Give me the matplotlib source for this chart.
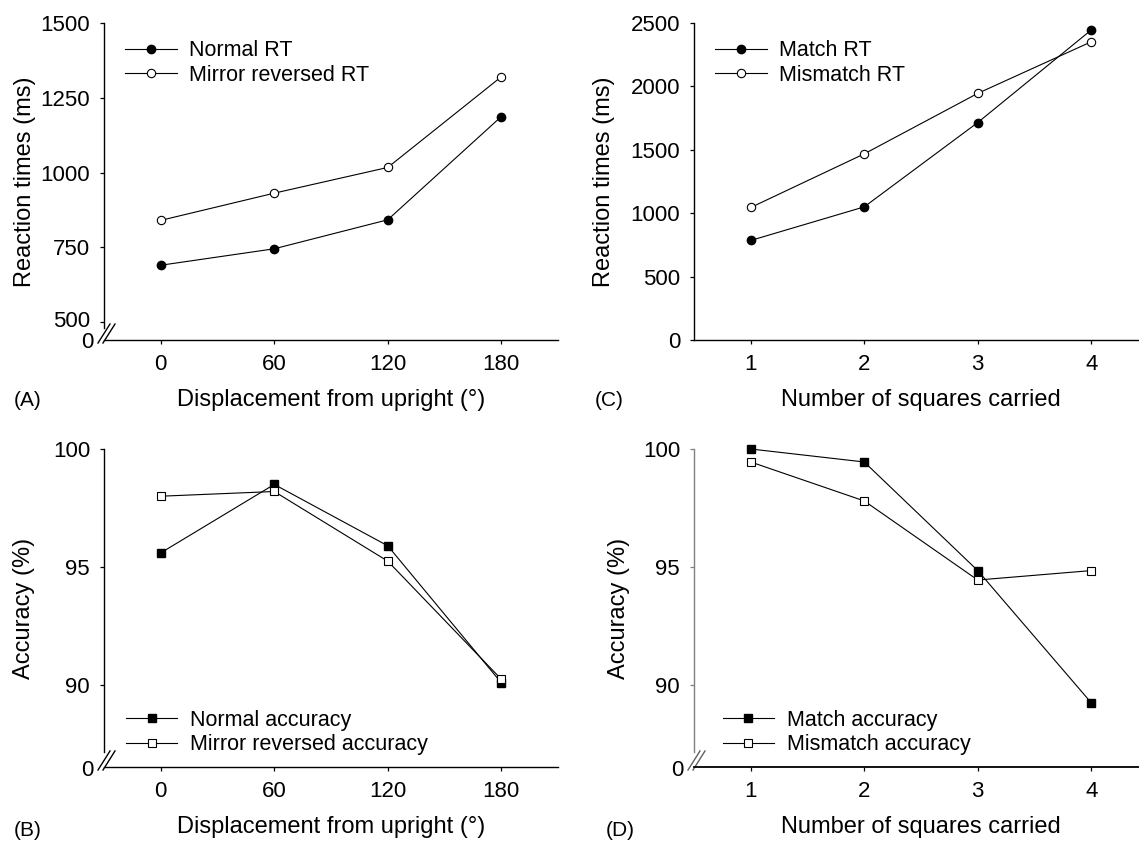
import matplotlib
matplotlib.use("Agg")
import matplotlib.pyplot as plt
import matplotlib.transforms as mtransforms
from matplotlib.lines import Line2D

plt.rcParams['font.family'] = ['Liberation Sans', 'DejaVu Sans']

# data
angles = [0, 60, 120, 180]
squares = [1, 2, 3, 4]

normal_rt = [690, 745, 842, 1187]
mirror_rt = [840, 931, 1017, 1320]

match_rt = [785, 1050, 1715, 2445]
mismatch_rt = [1045, 1468, 1945, 2352]

normal_acc = [95.6, 98.5, 95.9, 90.1]
mirror_acc = [98.0, 98.2, 95.25, 90.25]

match_acc = [100.0, 99.45, 94.85, 89.25]
mismatch_acc = [99.45, 97.8, 94.45, 94.85]

W, H = 1139, 843
fig = plt.figure(figsize=(W / 100, H / 100), dpi=100)

AX_W = 454
AX_H = 317


def px_axes(left, top, bottom):
    return fig.add_axes([left / W, (H - bottom) / H, AX_W / W, (bottom - top) / H])


def style(ax, ylabel, xlabel, ylab_x):
    for s in ['top', 'right']:
        ax.spines[s].set_visible(False)
    for s in ['left', 'bottom']:
        ax.spines[s].set_linewidth(1.0)
    ax.tick_params(axis='both', direction='out', length=3, width=0.9, labelsize=16)
    ax.tick_params(axis='x', pad=7)
    ax.tick_params(axis='y', pad=7)
    ax.set_ylabel(ylabel, fontsize=17)
    ax.set_xlabel(xlabel, fontsize=17)
    ax.yaxis.set_label_coords(ylab_x, 0.5)
    ax.yaxis.label.set_verticalalignment('center')
    ax.xaxis.set_label_coords(0.5, -60 / AX_H)
    ax.xaxis.label.set_verticalalignment('center')


def broken_zero(ax, color='black', nudge=False):
    # "//" marks at the corner and the "0" label under the break
    w = AX_W
    h = AX_H
    for dx in (0, 5):
        ax.add_line(Line2D([(-6 + dx) / w, (6 + dx) / w], [-3 / h, 16 / h],
                           transform=ax.transAxes, color=color, lw=1.0,
                           clip_on=False))
    ax.text(-11 / w, -3 / h, '0', transform=ax.transAxes, fontsize=16,
            ha='right', va='center')
    if nudge:
        # lift the lowest tick label a little so it clears the "0"
        lab = ax.yaxis.get_major_ticks()[0].label1
        lab.set_transform(lab.get_transform() +
                          mtransforms.ScaledTranslation(0, 3 / 100, fig.dpi_scale_trans))


def legend(ax, loc, anchor):
    ax.legend(loc=loc, bbox_to_anchor=anchor, frameon=False, fontsize=15.5,
              handlelength=2.4, handletextpad=0.6, labelspacing=0.15,
              borderaxespad=0, borderpad=0)


line_kw = dict(color='black', lw=0.8, clip_on=False, zorder=3)

# (A)
axA = px_axes(104, 23, 340)
axA.plot(angles, normal_rt, marker='o', ms=6, mfc='black', mec='black',
         label='Normal RT', **line_kw)
axA.plot(angles, mirror_rt, marker='o', ms=6, mfc='white', mec='black', mew=0.8,
         label='Mirror reversed RT', **line_kw)
axA.set_xlim(-30, 210)
axA.set_ylim(440, 1500)
axA.set_xticks(angles)
axA.set_yticks([500, 750, 1000, 1250, 1500])
axA.spines['left'].set_bounds(480, 1500)
style(axA, 'Reaction times (ms)', 'Displacement from upright (\u00b0)', -0.175)
broken_zero(axA, nudge=True)
legend(axA, 'upper left', (0.046, 0.945))

# (C)
axC = px_axes(694, 23, 340)
axC.plot(squares, match_rt, marker='o', ms=6, mfc='black', mec='black',
         label='Match RT', **line_kw)
axC.plot(squares, mismatch_rt, marker='o', ms=6, mfc='white', mec='black', mew=0.8,
         label='Mismatch RT', **line_kw)
axC.set_xlim(0.5, 4.5)
axC.set_ylim(0, 2500)
axC.set_xticks(squares)
axC.set_yticks([0, 500, 1000, 1500, 2000, 2500])
style(axC, 'Reaction times (ms)', 'Number of squares carried', -0.198)
legend(axC, 'upper left', (0.046, 0.945))

# (B)
axB = px_axes(104, 449, 767)
axB.plot(angles, normal_acc, marker='s', ms=5.5, mfc='black', mec='black',
         label='Normal accuracy', **line_kw)
axB.plot(angles, mirror_acc, marker='s', ms=5.5, mfc='white', mec='black', mew=0.8,
         label='Mirror reversed accuracy', **line_kw)
axB.set_xlim(-30, 210)
axB.set_ylim(86.53, 100)
axB.set_xticks(angles)
axB.set_yticks([90, 95, 100])
axB.spines['left'].set_bounds(87.16, 100)
style(axB, 'Accuracy (%)', 'Displacement from upright (\u00b0)', -0.176)
broken_zero(axB)
legend(axB, 'lower left', (0.048, 0.037))

# (D)
axD = px_axes(694, 449, 767)
axD.plot(squares, match_acc, marker='s', ms=5.5, mfc='black', mec='black',
         label='Match accuracy', **line_kw)
axD.plot(squares, mismatch_acc, marker='s', ms=5.5, mfc='white', mec='black', mew=0.8,
         label='Mismatch accuracy', **line_kw)
axD.set_xlim(0.5, 4.5)
axD.set_ylim(86.53, 100)
axD.set_xticks(squares)
axD.set_yticks([90, 95, 100])
axD.spines['left'].set_bounds(87.16, 100)
style(axD, 'Accuracy (%)', 'Number of squares carried', -0.165)
axD.spines['left'].set_color('#808080')
axD.tick_params(axis='y', color='#808080')
axD.spines['bottom'].set_linewidth(1.3)
broken_zero(axD, color='#606060')
legend(axD, 'lower left', (0.063, 0.037))

# panel letters
for txt, x, y in [('(A)', 14, 400), ('(C)', 595, 400), ('(B)', 14, 830), ('(D)', 606, 830)]:
    fig.text(x / W, (H - y) / H, txt, fontsize=15, ha='left', va='center')

fig.savefig('out.png', dpi=100)
